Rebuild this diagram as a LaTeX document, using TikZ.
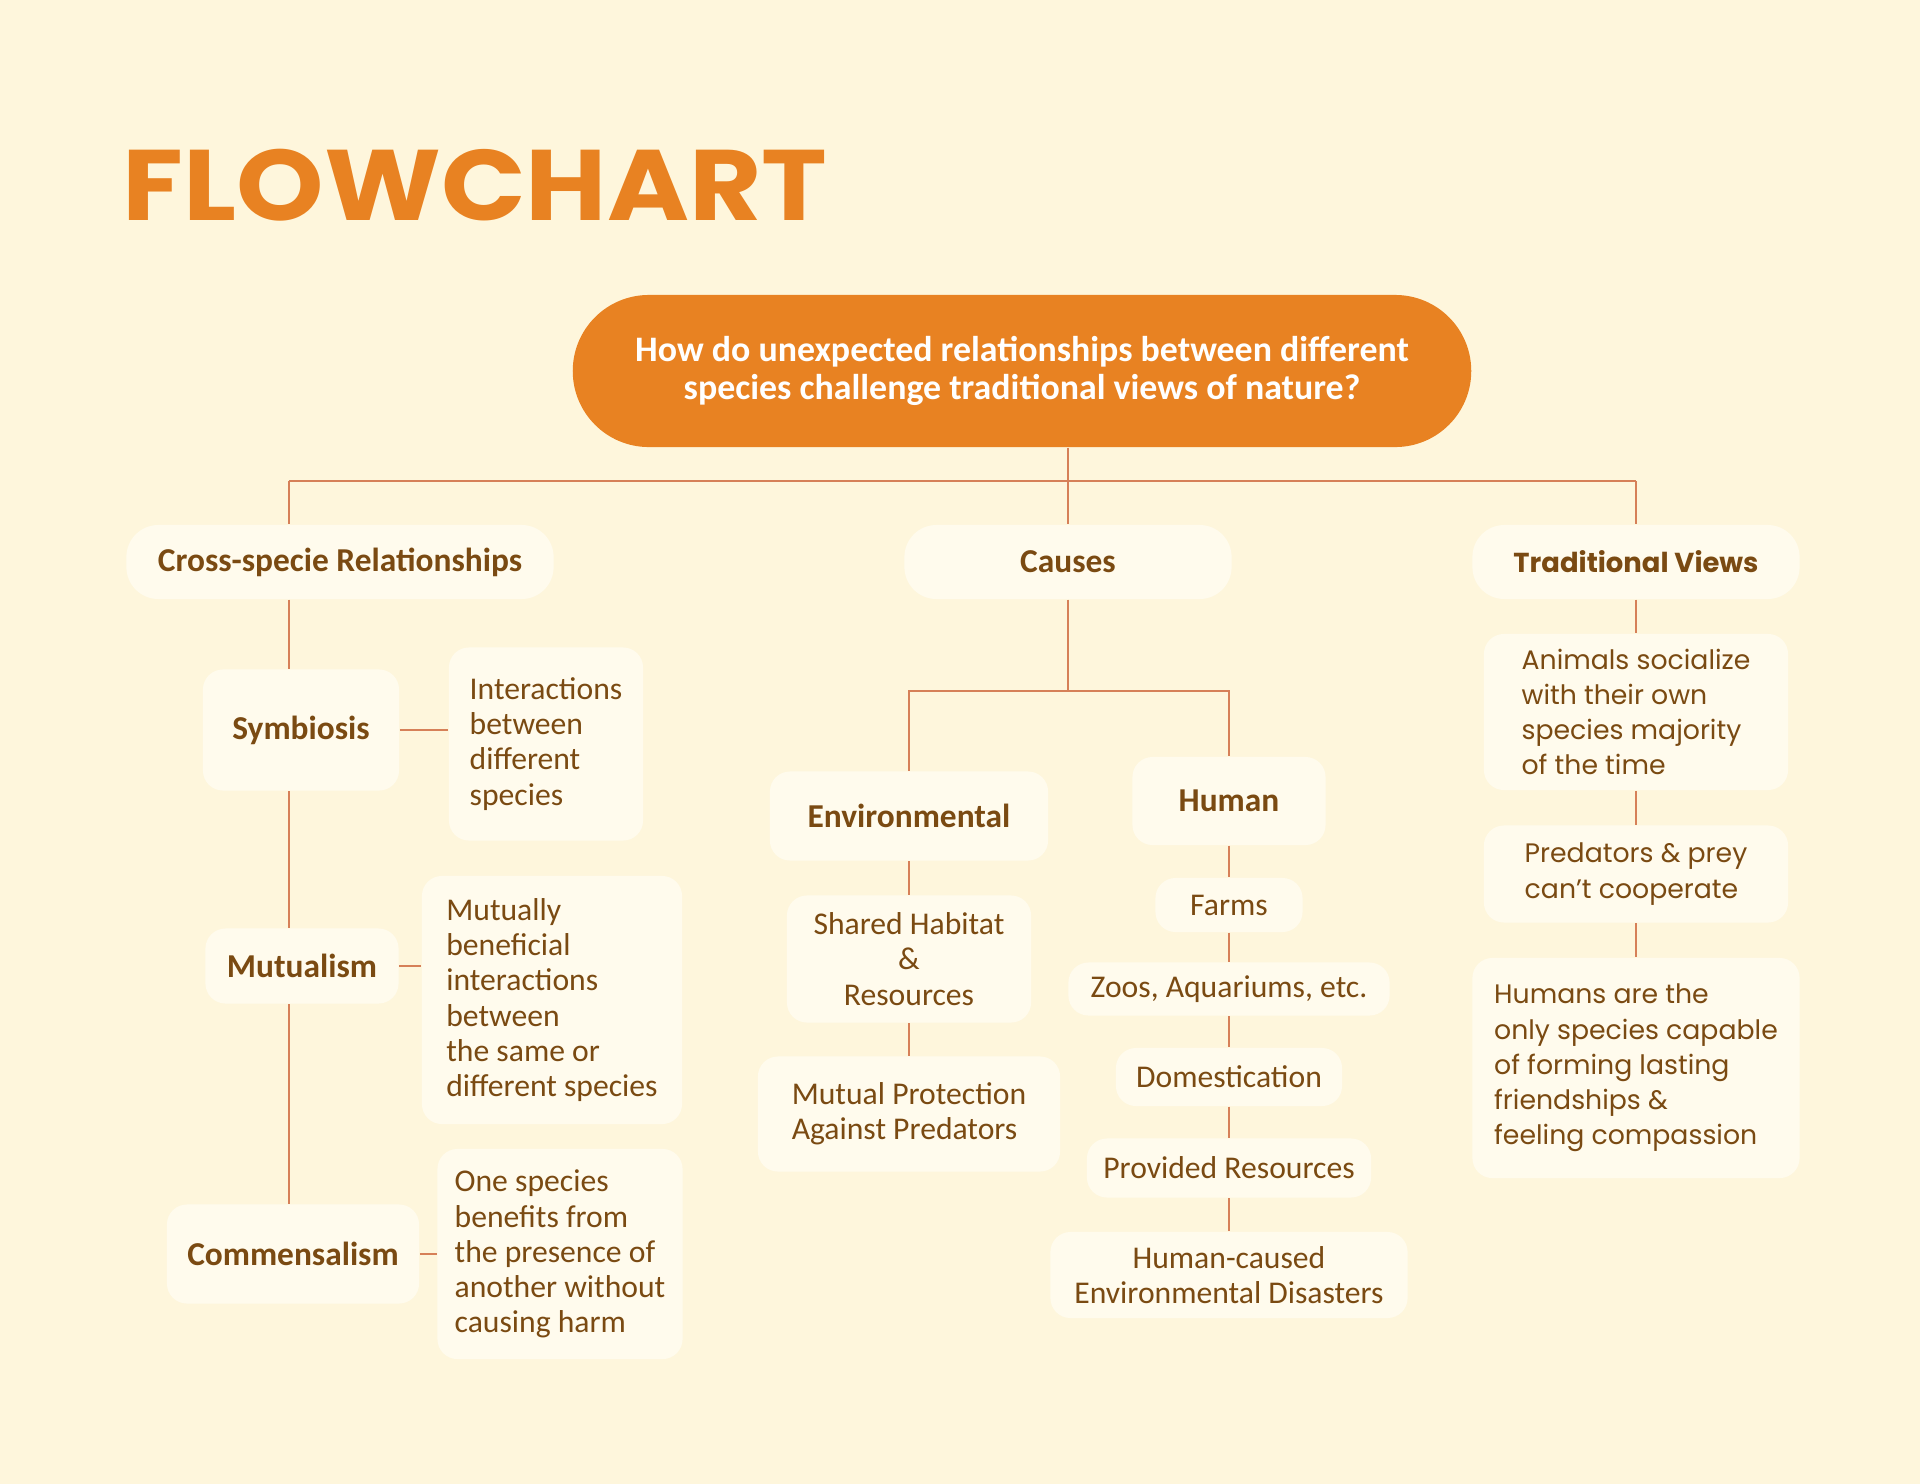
\documentclass[tikz,border=0pt]{standalone}
\usepackage{fontspec}
\setmainfont{Carlito}
\newfontfamily\geofont{Poppins}
\usetikzlibrary{positioning}
\definecolor{bgcream}{RGB}{254,246,220}
\definecolor{boxcream}{RGB}{255,251,237}
\definecolor{flowOrange}{RGB}{232,130,34}
\definecolor{barkBrown}{RGB}{122,74,18}
\definecolor{linkLine}{RGB}{214,128,88}
\tikzset{
  headbox/.style={fill=boxcream, text=barkBrown, rounded corners=0.32cm, inner sep=0pt, font=\fontsize{9.5}{10.5}\selectfont\bfseries},
  leafbox/.style={fill=boxcream, text=barkBrown, rounded corners=0.2cm, inner sep=0pt, align=left, font=\fontsize{9}{10}\selectfont},
  viewbox/.style={leafbox, font=\geofont\fontsize{7.6}{10}\selectfont},
  link/.style={draw=linkLine, line width=0.6pt}
}

\begin{document}
\begin{tikzpicture}[x=0.01cm, y=-0.01cm]
	% background
	\fill[bgcream] (0,0) rectangle (1920,1484);
	\useasboundingbox (0,0) rectangle (1920,1484);
	% title
	\node[anchor=base west, inner sep=0pt, text=flowOrange, font=\geofont\bfseries\fontsize{28.5}{30}\selectfont] (title) at (122,220) {\scalebox{1.11}[1]{FLOWCHART}};
	% question
	\node[fill=flowOrange, text=white, rounded corners=0.76cm, minimum width=8.98cm, minimum height=1.52cm, inner sep=0pt, align=center, font=\fontsize{10.2}{10.8}\selectfont\bfseries] (quest) at (1022,371) {How do unexpected relationships between different\\species challenge traditional views of nature?};
	% headers
	\node[headbox, minimum width=4.27cm, minimum height=0.74cm] (cross) at (340,562) {Cross-specie Relationships};
	\node[headbox, minimum width=3.27cm, minimum height=0.74cm] (causes) at (1068,562) {Causes};
	\node[headbox, minimum width=3.27cm, minimum height=0.74cm, font=\geofont\bfseries\fontsize{7.8}{10}\selectfont] (tv) at (1636,562) {Traditional Views};
	% left column
	\coordinate (lspine) at (289,0);
	\node[leafbox, font=\fontsize{9.5}{10.5}\selectfont\bfseries, minimum width=1.96cm, minimum height=1.21cm] (sym) at (301,730) {Symbiosis};
	\node[leafbox, minimum width=1.94cm, minimum height=1.93cm] (inter) at (546,744) {Interactions\\between\\different\\species};
	\node[leafbox, font=\fontsize{9.5}{10.5}\selectfont\bfseries, minimum width=1.93cm, minimum height=0.75cm] (mut) at (302,966) {Mutualism};
	\node[leafbox, minimum width=2.6cm, minimum height=2.48cm] (mutdesc) at (552,1000) {Mutually\\beneficial\\interactions\\between\\the same or\\different species};
	\node[leafbox, font=\fontsize{9.5}{10.5}\selectfont\bfseries, minimum width=2.52cm, minimum height=0.99cm] (comm) at (293,1254) {Commensalism};
	\node[leafbox, minimum width=2.45cm, minimum height=2.1cm] (commdesc) at (560,1254) {One species\\benefits from\\the presence of\\another without\\causing harm};
	% middle column
	\node[leafbox, font=\fontsize{9.5}{10.5}\selectfont\bfseries, minimum width=2.78cm, minimum height=0.89cm] (env) at (909,816) {Environmental};
	\node[leafbox, font=\fontsize{9.5}{10.5}\selectfont\bfseries, minimum width=1.93cm, minimum height=0.88cm] (hum) at (1229,801) {Human};
	\node[leafbox, align=center, minimum width=2.44cm, minimum height=1.27cm] (shared) at (909,959) {Shared Habitat\\\&\\Resources};
	\node[leafbox, minimum width=3.02cm, minimum height=1.15cm] (protect) at (909,1114) {Mutual Protection\\Against Predators};
	\node[leafbox, minimum width=1.47cm, minimum height=0.54cm] (farms) at (1229,905) {Farms};
	\node[leafbox, minimum width=3.21cm, minimum height=0.53cm] (zoos) at (1229,989) {Zoos, Aquariums, etc.};
	\node[leafbox, minimum width=2.26cm, minimum height=0.58cm] (dom) at (1229,1077) {Domestication};
	\node[leafbox, minimum width=2.84cm, minimum height=0.59cm] (prov) at (1229,1168) {Provided Resources};
	\node[leafbox, align=center, minimum width=3.57cm, minimum height=0.86cm] (disast) at (1229,1275) {Human-caused\\Environmental Disasters};
	% right column
	\node[viewbox, minimum width=3.04cm, minimum height=1.56cm] (social) at (1636,712) {Animals socialize\\with their own\\species majority\\of the time};
	\node[viewbox, minimum width=3.04cm, minimum height=0.97cm] (prey) at (1636,874) {Predators \& prey\\can’t cooperate};
	\node[viewbox, minimum width=3.27cm, minimum height=2.2cm] (humans) at (1636,1068) {Humans are the\\only species capable\\of forming lasting\\friendships \&\\feeling compassion};
	% connectors from the question
	\coordinate (bus) at (1068,481);
	\draw[link] (quest.south -| causes.north) -- (causes.north);
	\draw[link] (lspine |- bus) -- (tv.north |- bus);
	\draw[link] (lspine |- bus) -- (lspine |- cross.north);
	\draw[link] (tv.north |- bus) -- (tv.north);
	% left spine
	\draw[link] (lspine |- cross.south) -- (lspine |- sym.north);
	\draw[link] (lspine |- sym.south) -- (lspine |- mut.north);
	\draw[link] (lspine |- mut.south) -- (lspine |- comm.north);
	\draw[link] (sym.east) -- (sym.east -| inter.west);
	\draw[link] (mut.east) -- (mut.east -| mutdesc.west);
	\draw[link] (comm.east) -- (comm.east -| commdesc.west);
	% causes split
	\coordinate (csplit) at (1068,691);
	\draw[link] (causes.south) -- (csplit);
	\draw[link] (env.north) -- (env.north |- csplit) -- (hum.north |- csplit) -- (hum.north);
	\draw[link] (env) -- (shared);
	\draw[link] (shared) -- (protect);
	\draw[link] (hum) -- (farms);
	\draw[link] (farms) -- (zoos);
	\draw[link] (zoos) -- (dom);
	\draw[link] (dom) -- (prov);
	\draw[link] (prov) -- (disast);
	% traditional views chain
	\draw[link] (tv) -- (social);
	\draw[link] (social) -- (prey);
	\draw[link] (prey) -- (humans);
\end{tikzpicture}
\end{document}
